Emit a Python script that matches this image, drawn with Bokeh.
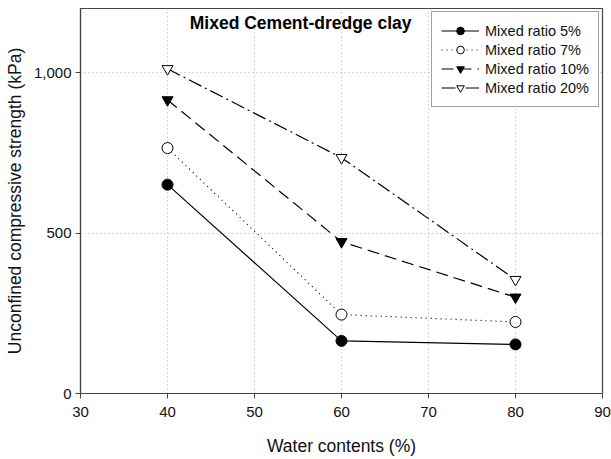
from bokeh.plotting import figure
from bokeh.models import (Range1d, FixedTicker, NumeralTickFormatter, Legend,
                          LegendItem, Label)
from bokeh.embed import file_html
from bokeh.resources import INLINE

# Water content (%) at which the specimens were prepared
water_content = [40, 60, 80]

# Unconfined compressive strength (kPa) for each cement mixing ratio
ratio_5 = [651, 164, 153]
ratio_7 = [765, 246, 223]
ratio_10 = [915, 473, 300]
ratio_20 = [1012, 735, 355]

series_labels = ["Mixed ratio 5%", "Mixed ratio 7%",
                 "Mixed ratio 10%", "Mixed ratio 20%"]
chart_title = "Mixed Cement-dredge clay"
x_ticks = [30, 40, 50, 60, 70, 80, 90]
y_ticks = [0, 500, 1000]

FONT = "Liberation Sans"

p = figure(width=611, height=459, output_backend="svg", toolbar_location=None,
           x_range=Range1d(30, 90), y_range=Range1d(0, 1200),
           min_border_left=80, min_border_right=9,
           min_border_top=8, min_border_bottom=66)
p.background_fill_color = "white"
p.border_fill_color = "white"
p.outline_line_color = "#444444"
p.outline_line_width = 1.2

# axes
p.xaxis.ticker = FixedTicker(ticks=x_ticks)
p.yaxis.ticker = FixedTicker(ticks=y_ticks)
p.yaxis.formatter = NumeralTickFormatter(format="0,0")
p.xaxis.axis_label = "Water contents (%)"
p.yaxis.axis_label = "Unconfined compressive strength (kPa)"
for ax in (p.xaxis, p.yaxis):
    ax.axis_line_color = "#444444"
    ax.axis_line_width = 1.2
    ax.major_tick_line_color = "#444444"
    ax.major_tick_out = 5
    ax.major_tick_in = 0
    ax.minor_tick_line_color = None
    ax.major_label_text_font = FONT
    ax.major_label_text_font_size = "15px"
    ax.major_label_text_color = "#111111"
    ax.axis_label_text_font = FONT
    ax.axis_label_text_font_size = "17.5px"
    ax.axis_label_text_font_style = "normal"
    ax.axis_label_text_color = "#111111"
p.xaxis.major_label_standoff = 8
p.yaxis.major_label_standoff = 4
p.xaxis.axis_label_standoff = 16
p.yaxis.axis_label_standoff = 6

# dotted grid
for g in (p.xgrid, p.ygrid):
    g.grid_line_color = "#b0b0b0"
    g.grid_line_dash = "1 3"
    g.grid_line_width = 1

styles = [
    (ratio_5, "solid", "circle", "black"),
    (ratio_7, "1 4", "circle", "white"),
    (ratio_10, "12 6", "inverted_triangle", "black"),
    (ratio_20, "14 4 2 4", "inverted_triangle", "white"),
]

items = []
for (vals, dash, marker, fill), label in zip(styles, series_labels):
    ln = p.line(water_content, vals, line_color="black", line_width=1.2,
                line_dash=dash)
    mk = p.scatter(water_content, vals, marker=marker, size=11,
                   fill_color=fill, line_color="black", line_width=1)
    items.append(LegendItem(label=label, renderers=[ln, mk]))

legend = Legend(items=items, location="top_right", margin=3,
                padding=9, spacing=0, glyph_width=38, glyph_height=19,
                label_height=19, label_standoff=6,
                label_text_font=FONT, label_text_font_size="14.5px",
                label_text_color="#111111",
                border_line_color="#444444", border_line_width=1.5,
                background_fill_color="white", background_fill_alpha=1)
p.add_layout(legend)

p.add_layout(Label(x=55.3, y=1156, text=chart_title, text_align="center",
                   text_baseline="alphabetic", text_font=FONT,
                   text_font_size="17.5px", text_font_style="bold",
                   text_color="black"))

open("out.html", "w").write(file_html(p, INLINE))
